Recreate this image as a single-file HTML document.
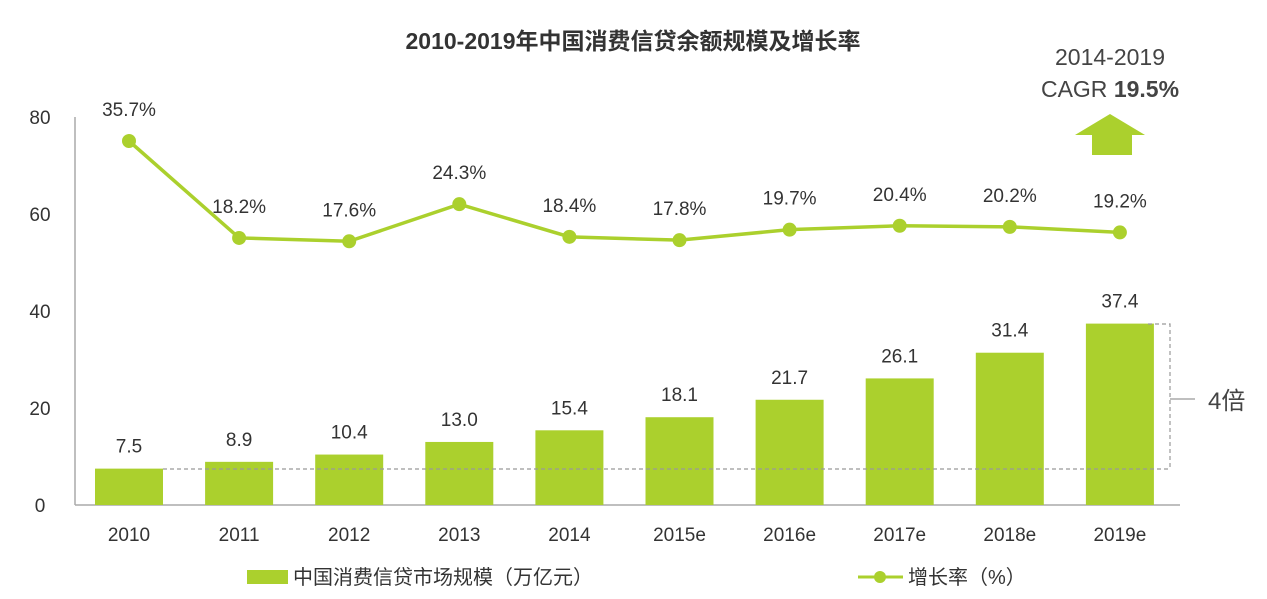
<!DOCTYPE html>
<html><head><meta charset="utf-8"><style>
body{margin:0;background:#fff;}
svg{display:block;font-family:"Liberation Sans","Noto Sans CJK SC",sans-serif;}
</style></head><body>
<svg id="chart" width="1267" height="599" viewBox="0 0 1267 599">
<text x="633" y="49" text-anchor="middle" font-size="23" font-weight="bold" fill="#333">2010-2019年中国消费信贷余额规模及增长率</text>
<text x="1110" y="65" text-anchor="middle" font-size="23" fill="#444">2014-2019</text>
<text x="1110" y="97" text-anchor="middle" font-size="23" fill="#444">CAGR <tspan font-weight="bold">19.5%</tspan></text>
<polygon points="1110,114 1145,135 1132,135 1132,155 1092,155 1092,135 1075,135" fill="#abd02d"/>
<line x1="75" y1="117" x2="75" y2="505" stroke="#aaa" stroke-width="1.5"/>
<line x1="75" y1="505" x2="1180" y2="505" stroke="#aaa" stroke-width="1.5"/>
<g id="yticks"></g><g id="bars"></g><g id="line"></g>
<line x1="163" y1="469" x2="1170" y2="469" stroke="#999" stroke-width="1.2" stroke-dasharray="4,3"/>
<polyline points="1148,324 1170,324 1170,469" fill="none" stroke="#999" stroke-width="1.2" stroke-dasharray="4,3"/>
<line x1="1170" y1="399" x2="1195" y2="399" stroke="#999" stroke-width="1.2"/>
<text x="1208" y="409" font-size="24" fill="#444">4倍</text>
<rect x="247" y="570" width="41" height="14" fill="#abd02d"/>
<text x="293" y="584" font-size="20" fill="#333">中国消费信贷市场规模（万亿元）</text>
<line x1="858" y1="577" x2="903" y2="577" stroke="#abd02d" stroke-width="3"/>
<circle cx="880" cy="577" r="6" fill="#abd02d"/>
<text x="908" y="584" font-size="20" fill="#333">增长率（%）</text>
</svg>
<script>
const categories=["2010","2011","2012","2013","2014","2015e","2016e","2017e","2018e","2019e"];
const marketSize=[7.5,8.9,10.4,13.0,15.4,18.1,21.7,26.1,31.4,37.4];
const growthRate=[35.7,18.2,17.6,24.3,18.4,17.8,19.7,20.4,20.2,19.2];
const yTicks=[0,20,40,60,80];
const NS="http://www.w3.org/2000/svg";
const G="#abd02d";
function x(i){return 129+i*110.1;}
function y(v){return 505-v*4.85;}
function yr(p){return 141+(35.7-p)*5.54;}
function mk(t,a,parent,txt){const e=document.createElementNS(NS,t);for(const k in a)e.setAttribute(k,a[k]);if(txt!==undefined)e.textContent=txt;document.getElementById(parent).appendChild(e);return e;}
yTicks.forEach(t=>{
 const e=mk('text',{x:40,y:y(t)+7,'text-anchor':'middle','font-size':19,fill:'#333'},'yticks',t);
 
 
});
categories.forEach((c,i)=>{
 const r=mk('rect',{x:x(i)-34,y:y(marketSize[i]),width:68,height:505-y(marketSize[i]),fill:G},'bars');
 
 
 const v=mk('text',{x:x(i),y:y(marketSize[i])-16,'text-anchor':'middle','font-size':19,fill:'#333'},'bars',marketSize[i].toFixed(1));
 
 
 const l=mk('text',{x:x(i),y:541,'text-anchor':'middle','font-size':19,fill:'#333'},'bars',c);
 
 
});
const pts=growthRate.map((p,i)=>x(i)+','+yr(p)).join(' ');
const pl=mk('polyline',{points:pts,fill:'none',stroke:G,'stroke-width':3.5},'line');


growthRate.forEach((p,i)=>{
 const c=mk('circle',{cx:x(i),cy:yr(p),r:7,fill:G},'line');
 
 
 const t=mk('text',{x:x(i),y:yr(p)-25,'text-anchor':'middle','font-size':19,fill:'#333'},'line',p.toFixed(1)+'%');
 
 
});
</script>
</body></html>
